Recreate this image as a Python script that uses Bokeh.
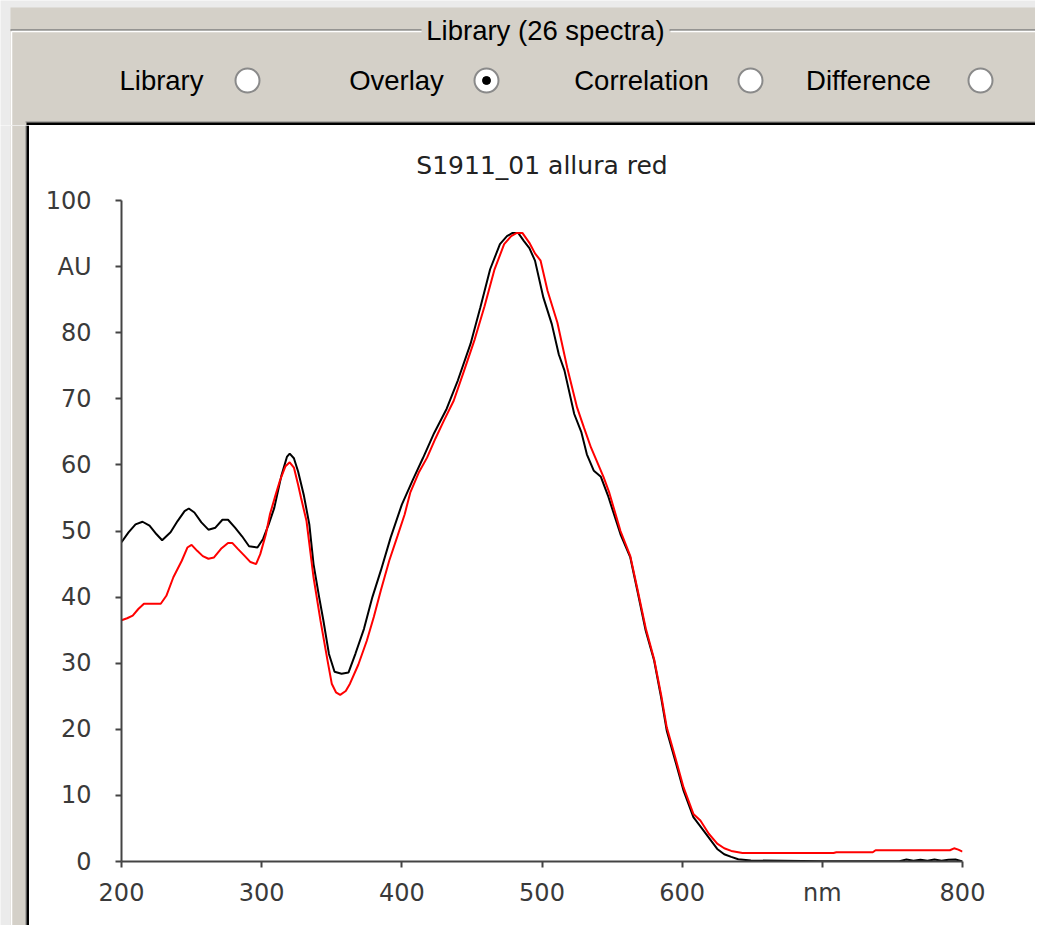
from bokeh.plotting import figure
from bokeh.models import Range1d, FixedTicker
from bokeh.layouts import column, row
from bokeh.embed import file_html
from bokeh.resources import INLINE
from bokeh.core.properties import value

# ---------------- data ----------------
black_nm = [200, 205, 210, 215, 220, 225, 229, 235, 240, 245, 248, 252, 257, 262, 267, 272, 276, 281, 286, 291,
            297, 301, 305, 309, 314, 318, 320, 323, 326, 330, 334, 337, 341, 344, 348, 352, 357, 362, 367, 373,
            379, 385, 392, 400, 408, 415, 423, 432, 440, 449, 456, 463, 470, 475, 479, 483, 487, 491, 495, 501,
            507, 512, 516, 523, 528, 532, 537, 542, 547, 556, 563, 568, 574, 580, 585, 589, 595, 601, 608, 613,
            619, 625, 630, 635, 640, 649, 700, 755, 760, 765, 770, 775, 780, 785, 790, 795, 800]
black_au = [48.3, 49.8, 51.0, 51.4, 50.8, 49.5, 48.6, 49.8, 51.5, 53.0, 53.4, 52.8, 51.3, 50.2, 50.5, 51.7, 51.7, 50.5, 49.2, 47.7,
            47.5, 48.8, 51.0, 53.5, 58.3, 61.2, 61.7, 61.0, 59.0, 55.5, 51.0, 45.0, 40.0, 36.5, 31.4, 28.7, 28.4, 28.6, 31.5, 35.2,
            40.0, 44.0, 49.0, 54.0, 57.8, 61.0, 64.8, 68.5, 72.8, 78.3, 83.8, 89.6, 93.4, 94.6, 95.1, 95.1, 93.9, 92.8, 90.9, 85.3,
            81.3, 76.7, 74.3, 67.7, 65.0, 61.6, 59.1, 58.2, 55.4, 49.5, 46.0, 41.0, 34.9, 30.4, 24.8, 19.8, 15.3, 10.7, 6.7, 5.3,
            3.6, 1.9, 1.1, 0.7, 0.35, 0.15, 0.05, 0.05, 0.3, 0.1, 0.25, 0.1, 0.3, 0.1, 0.25, 0.3, 0.0]

red_nm = [200, 204, 208, 212, 216, 222, 228, 232, 237, 243, 247, 250, 254, 258, 262, 266, 271, 276, 279, 283,
          288, 292, 296, 299, 303, 306, 310, 313, 317, 320, 323, 326, 328, 332, 337, 342, 347, 350, 353, 356,
          360, 363, 369, 375, 380, 385, 391, 397, 402, 406, 412, 418, 424, 430, 437, 444, 452, 459, 466, 473,
          478, 482, 486, 491, 495, 499, 504, 511, 518, 525, 530, 535, 544, 548, 556, 563, 568, 574, 580, 585,
          589, 595, 601, 608, 613, 619, 625, 630, 635, 643, 708, 710, 736, 738, 791, 794, 797, 800]
red_au = [36.5, 36.8, 37.2, 38.2, 39.0, 39.0, 39.0, 40.2, 43.0, 45.5, 47.5, 47.9, 47.0, 46.2, 45.8, 46.0, 47.3, 48.2, 48.2, 47.3,
          46.2, 45.3, 45.0, 46.5, 49.5, 52.6, 55.5, 57.6, 59.8, 60.4, 59.6, 57.0, 55.1, 51.5, 43.0, 36.4, 30.4, 26.9, 25.6, 25.2,
          25.8, 26.9, 29.8, 33.4, 37.0, 41.0, 45.5, 49.3, 52.5, 55.8, 58.8, 61.1, 64.0, 66.7, 69.7, 74.0, 79.0, 84.0, 89.5, 93.4,
          94.6, 95.1, 95.1, 93.6, 92.0, 90.9, 86.3, 81.5, 74.7, 68.7, 65.6, 62.6, 58.1, 55.8, 50.0, 46.2, 41.3, 35.3, 30.6, 25.2,
          20.3, 15.8, 11.2, 7.2, 6.2, 4.2, 2.7, 2.0, 1.6, 1.3, 1.3, 1.4, 1.4, 1.7, 1.7, 2.0, 1.8, 1.5]

x_ticks = [200, 300, 400, 500, 600, 700, 800]
x_label_overrides = {700: "nm"}
y_ticks = [0, 10, 20, 30, 40, 50, 60, 70, 80, 90, 100]
y_label_overrides = {90: "AU"}

chart_title = "S1911_01 allura red"
group_title = "Library (26 spectra)"
radio_labels = ["Library", "Overlay", "Correlation", "Difference"]
radio_selected = "Overlay"

# ---------------- style constants ----------------
BEIGE = "#d4d0c8"
LIGHT = "#ebebeb"
UI_FONT = value("Liberation Sans")
CH_FONT = "DejaVu Sans"
AX_COL = "#444444"

W_ALL = 1035
H_ALL = 925
TOP_H = 125
LEFT_W = 29
CH_H = H_ALL - TOP_H
CH_W = W_ALL - LEFT_W


def blank(width, height, xr, yr, bg):
    f = figure(width=width, height=height, x_range=Range1d(*xr), y_range=Range1d(*yr),
               output_backend="svg", toolbar_location=None, min_border=0,
               x_axis_location=None, y_axis_location=None)
    f.grid.visible = False
    f.outline_line_color = None
    f.background_fill_color = bg
    f.border_fill_color = bg
    return f

# ---------------- top chrome (coordinates are page pixels) ----------------
top = blank(W_ALL, TOP_H, (0, W_ALL), (TOP_H, 0), LIGHT)
top.quad(left=10, right=W_ALL, top=7, bottom=TOP_H, fill_color=BEIGE, line_color=None)
for x0, x1 in [(10, 421), (669, W_ALL)]:
    top.segment(x0=x0, y0=29.5, x1=x1, y1=29.5, line_color="#808080", line_width=1.5)
    top.segment(x0=x0 + 1, y0=31, x1=x1, y1=31, line_color="white", line_width=1.5)
top.segment(x0=11, y0=31, x1=11, y1=130, line_color="white", line_width=1.5)
top.text(x=[545], y=[30], text=[group_title], text_align="center", text_baseline="alphabetic",
         text_font=UI_FONT, text_font_size="27.5px", text_color="black")

label_x = [161, 396, 641, 868]
button_x = [247, 486, 750, 980]
top.text(x=label_x, y=[80] * 4, text=radio_labels, text_align="center", text_baseline="alphabetic",
         text_font=UI_FONT, text_font_size="27.5px", text_color="black")
top.scatter(x=button_x, y=[80] * 4, size=24, marker="circle", fill_color="white",
            line_color="#8a8a8a", line_width=2)
sel = [button_x[i] for i, r in enumerate(radio_labels) if r == radio_selected]
top.scatter(x=sel, y=[80] * len(sel), size=8, marker="circle", fill_color="black", line_color="black")

top.segment(x0=25, y0=121.5, x1=W_ALL, y1=121.5, line_color="#808080", line_width=1)
top.quad(left=26, right=W_ALL, top=122, bottom=TOP_H, fill_color="black", line_color=None)

# ---------------- left chrome ----------------
left = blank(LEFT_W, CH_H, (0, LEFT_W), (H_ALL, TOP_H), LIGHT)
left.quad(left=10, right=26, top=TOP_H, bottom=H_ALL, fill_color=BEIGE, line_color=None)
left.segment(x0=11, y0=TOP_H, x1=11, y1=H_ALL, line_color="white", line_width=1.5)
left.segment(x0=25.5, y0=TOP_H, x1=25.5, y1=H_ALL, line_color="#808080", line_width=1)
left.quad(left=26, right=29, top=TOP_H, bottom=H_ALL, fill_color="black", line_color=None)

# ---------------- chart ----------------
p = figure(width=CH_W, height=CH_H, x_range=Range1d(200, 800), y_range=Range1d(0, 100),
           output_backend="svg", toolbar_location=None,
           min_border_left=92, min_border_right=CH_W - 92 - 841, min_border_top=75,
           min_border_bottom=CH_H - 75 - 661)
p.grid.visible = False
p.outline_line_color = None
p.background_fill_color = "white"
p.border_fill_color = "white"

p.line(black_nm, black_au, line_color="black", line_width=2)
p.line(red_nm, red_au, line_color="#ff0000", line_width=2)

p.xaxis.ticker = FixedTicker(ticks=x_ticks)
p.xaxis.major_label_overrides = x_label_overrides
p.yaxis.ticker = FixedTicker(ticks=y_ticks)
p.yaxis.major_label_overrides = y_label_overrides
for ax in (p.xaxis[0], p.yaxis[0]):
    ax.axis_line_color = AX_COL
    ax.axis_line_width = 2
    ax.major_tick_line_color = AX_COL
    ax.major_tick_line_width = 2
    ax.major_tick_out = 6
    ax.major_tick_in = 0
    ax.minor_tick_line_color = None
    ax.major_label_text_font = CH_FONT
    ax.major_label_text_font_size = "24px"
    ax.major_label_text_color = "#3a3a3a"
p.yaxis.major_label_standoff = 24
p.xaxis.major_label_standoff = 11

p.title.text = chart_title
p.title.align = "center"
p.title.offset = 4
p.title.text_font = CH_FONT
p.title.text_font_size = "25px"
p.title.text_font_style = "normal"
p.title.text_color = "#222222"
p.title.standoff = 42

for f in (left, p):
    try:
        f.frame_align = False
    except Exception:
        pass

layout = column(top, row(left, p))

open("out.html", "w").write(file_html(layout, INLINE))
